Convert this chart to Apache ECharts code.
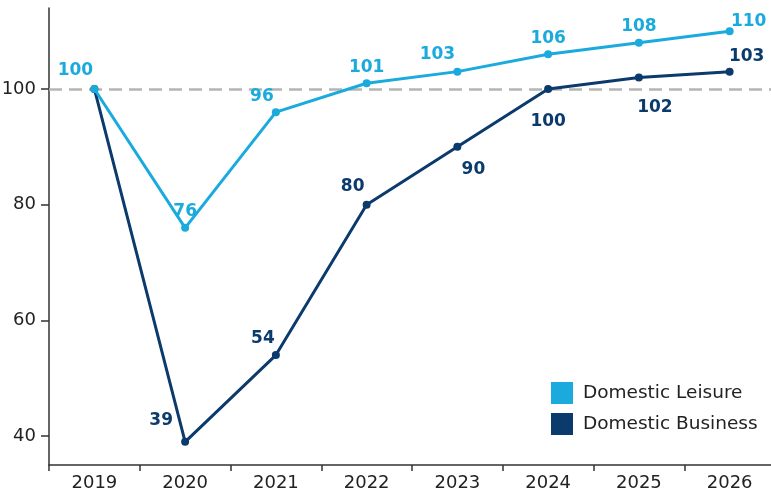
<!DOCTYPE html>
<html>
<head>
<meta charset="utf-8">
<script src="https://cdn.jsdelivr.net/npm/echarts@6/dist/echarts.min.js"></script>
<style>
  html, body { margin: 0; padding: 0; background: #fff; }
  #chart { width: 771px; height: 492px; }
</style>
</head>
<body>
<div id="chart"></div>
<script>
var years = ["2019", "2020", "2021", "2022", "2023", "2024", "2025", "2026"];
var leisure = [100, 76, 96, 101, 103, 106, 108, 110];
var business = [100, 39, 54, 80, 90, 100, 102, 103];
var yTicks = [40, 60, 80, 100];

// label offsets (px from point), null = no label
var leisureShift = [[-19, -18], [0, -16], [-14, -16], [0, -16], [-20, -17], [0, -16], [0, -16], [19, -10]];
var businessShift = [null, [-24, -21], [-13, -17], [-14, -18], [16, 23], [0, 33], [16, 30], [17, -15]];

var FONT = "DejaVu Sans";
var LEISURE = "#1aaadd";
var BUSINESS = "#0b3a6c";

function buildData(values, shifts, color) {
  return values.map(function (v, i) {
    var s = shifts[i];
    if (!s) return { value: v, label: { show: false } };
    return {
      value: v,
      label: {
        show: true,
        position: "inside",
        offset: s,
        align: "center",
        verticalAlign: "middle",
        color: color,
        fontFamily: FONT,
        fontWeight: "bold",
        fontSize: 17
      }
    };
  });
}

var myChart = echarts.init(document.getElementById("chart"));
var option = {
  animation: false,
  grid: { left: 49, width: 726, top: 8, height: 457, outerBoundsMode: "none", containLabel: false },
  legend: {
    data: ["Domestic Leisure", "Domestic Business"],
    orient: "vertical",
    left: 551,
    top: 382,
    padding: 0,
    itemWidth: 22,
    itemHeight: 22,
    itemGap: 9,
    icon: "rect",
    textStyle: { fontFamily: FONT, fontSize: 18.5, color: "#222", padding: [0, 0, 0, 5] }
  },
  xAxis: {
    type: "category",
    data: years,
    boundaryGap: true,
    axisLine: { lineStyle: { color: "#333", width: 1.5 } },
    axisTick: { show: true, length: 6, interval: 0, lineStyle: { color: "#333", width: 1.5 } },
    axisLabel: { fontFamily: FONT, fontSize: 18, color: "#222", margin: 9 }
  },
  yAxis: {
    type: "value",
    min: 35,
    max: 114,
    axisLine: { show: true, lineStyle: { color: "#333", width: 1.5 } },
    axisTick: { show: true, length: 8, customValues: yTicks, lineStyle: { color: "#333", width: 1.5 } },
    axisLabel: { fontFamily: FONT, fontSize: 18, color: "#222", margin: 13, customValues: yTicks },
    splitLine: { show: false }
  },
  series: [
    {
      name: "Domestic Business",
      type: "line",
      data: buildData(business, businessShift, BUSINESS),
      color: BUSINESS,
      symbol: "circle",
      symbolSize: 8,
      lineStyle: { width: 3 },
      z: 2
    },
    {
      name: "Domestic Leisure",
      type: "line",
      data: buildData(leisure, leisureShift, LEISURE),
      color: LEISURE,
      symbol: "circle",
      symbolSize: 8,
      lineStyle: { width: 3 },
      z: 3,
      markLine: {
        silent: true,
        symbol: "none",
        label: { show: false },
        lineStyle: { color: "#b5b5b5", type: [13, 7], width: 2.5 },
        data: [{ yAxis: 100 }],
        z: 1
      }
    }
  ]
};
myChart.setOption(option);
</script>
</body>
</html>
